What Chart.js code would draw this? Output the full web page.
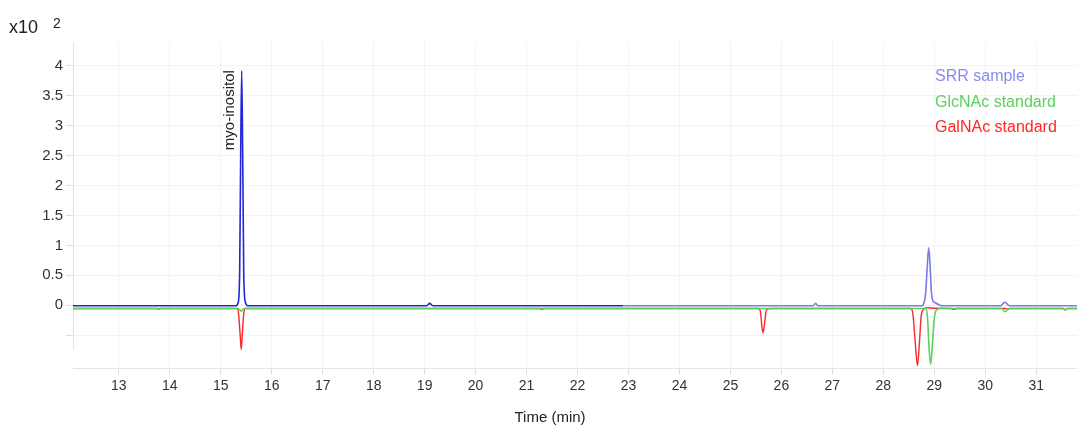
<!DOCTYPE html>
<html lang="en">
<head>
  <meta charset="UTF-8">
  <title>GC chromatogram – SRR sample vs. GlcNAc / GalNAc standards</title>
  <script src="https://cdn.jsdelivr.net/npm/chart.js"></script>
  <style>
    html, body { margin: 0; padding: 0; background: #fff; }
    .chart-container { position: relative; width: 1077px; height: 425px; }
  </style>
</head>
<body>
  <div class="chart-container">
    <canvas id="chromChart"></canvas>
  </div>

  <script>
    // retention time (min) / detector response (x10^2)
    const srrTime = [12.10, 15.30, 15.34, 15.37, 15.39, 15.41, 15.43, 15.45, 15.48, 15.53,
                     19.04, 19.10, 19.16, 22.90, 26.62, 26.67, 26.72,
                     28.76, 28.80, 28.83, 28.86, 28.89, 28.92, 28.94, 28.97, 29.02, 29.08, 29.15,
                     30.30, 30.35, 30.39, 30.44, 30.48, 31.80];
    const srrSignal = [-0.01, -0.01, 0.04, 0.55, 2.5, 3.92, 2.5, 0.55, 0.06, -0.01,
                       -0.01, 0.03, -0.01, -0.01, -0.01, 0.03, -0.01,
                       -0.01, 0.05, 0.2, 0.62, 0.96, 0.62, 0.25, 0.08, 0.04, 0.01, -0.01,
                       -0.01, 0.03, 0.05, 0.01, -0.01, -0.01];

    const glcTime = [12.10, 15.34, 15.40, 15.46, 21.25, 21.30, 21.35,
                     28.84, 28.87, 28.90, 28.93, 28.96, 28.99, 29.02, 29.06, 29.12,
                     30.32, 30.39, 30.46, 31.52, 31.57, 31.62, 31.80];
    const glcSignal = [-0.055, -0.055, -0.1, -0.055, -0.055, -0.07, -0.055,
                       -0.055, -0.25, -0.75, -0.99, -0.7, -0.3, -0.12, -0.07, -0.055,
                       -0.055, -0.11, -0.055, -0.055, -0.075, -0.055, -0.055];

    const galTime = [12.10, 13.74, 13.78, 13.82, 15.32, 15.35, 15.38, 15.40, 15.42, 15.45, 15.48,
                     25.56, 25.59, 25.62, 25.64, 25.67, 25.70, 25.74, 25.80,
                     28.54, 28.58, 28.62, 28.67, 28.71, 28.74, 28.78, 28.85, 29.00,
                     29.33, 29.38, 29.43, 30.40, 30.44, 30.48, 31.53, 31.57, 31.61, 31.80];
    const galSignal = [-0.055, -0.055, -0.065, -0.055, -0.055, -0.15, -0.5, -0.74, -0.5, -0.15, -0.055,
                       -0.055, -0.12, -0.38, -0.46, -0.3, -0.1, -0.06, -0.055,
                       -0.055, -0.15, -0.55, -1.01, -0.6, -0.2, -0.08, -0.045, -0.05,
                       -0.055, -0.07, -0.055, -0.055, -0.07, -0.055, -0.055, -0.08, -0.055, -0.055];

    const seriesNames = ['SRR sample', 'GlcNAc standard', 'GalNAc standard'];
    const xTicks = [13, 14, 15, 16, 17, 18, 19, 20, 21, 22, 23, 24, 25, 26, 27, 28, 29, 30, 31];
    const yTicks = [-0.5, 0, 0.5, 1, 1.5, 2, 2.5, 3, 3.5, 4];

    const peakLabel = { text: 'myo-inositol', time: 15.17, top: 3.93 };

    const toPoints = (t, v) => t.map((x, i) => ({ x: x, y: v[i] }));

    Chart.defaults.font.family = '"Liberation Sans", Arial, sans-serif';
    Chart.defaults.color = '#333';

    // extra texts: exponent, peak name, legend, x title; short y axis line
    const chromTexts = {
      id: 'chromTexts',
      beforeDatasetsDraw(chart) {
        const { ctx, chartArea, scales } = chart;
        ctx.save();
        ctx.strokeStyle = '#e4e4e4';
        ctx.lineWidth = 1;
        ctx.beginPath();
        ctx.moveTo(chartArea.left + 0.5, chartArea.top);
        ctx.lineTo(chartArea.left + 0.5, scales.y.getPixelForValue(-0.75));
        ctx.stroke();
        ctx.restore();
      },
      afterDraw(chart, args, opts) {
        const { ctx, scales } = chart;
        ctx.save();
        ctx.fillStyle = '#222';
        ctx.textBaseline = 'middle';
        ctx.textAlign = 'left';
        ctx.font = '18px "Liberation Sans", Arial, sans-serif';
        ctx.fillText('x10', 9, 28);
        ctx.font = '14px "Liberation Sans", Arial, sans-serif';
        ctx.fillText('2', 53, 24);

        // peak name, rotated
        const px = scales.x.getPixelForValue(peakLabel.time);
        const py = scales.y.getPixelForValue(peakLabel.top);
        ctx.save();
        ctx.translate(px, py);
        ctx.rotate(-Math.PI / 2);
        ctx.textAlign = 'right';
        ctx.font = '15px "Liberation Sans", Arial, sans-serif';
        ctx.fillStyle = '#222';
        ctx.fillText(peakLabel.text, 0, 0);
        ctx.restore();

        // legend (text only)
        ctx.font = '16px "Liberation Sans", Arial, sans-serif';
        chart.data.datasets.forEach((ds, i) => {
          ctx.fillStyle = opts.colors[i];
          ctx.fillText(ds.label, 935, 77 + i * 25.5);
        });

        // x axis title
        ctx.textAlign = 'center';
        ctx.fillStyle = '#222';
        ctx.font = '15px "Liberation Sans", Arial, sans-serif';
        ctx.fillText('Time (min)', 550, 418);
        ctx.restore();
      }
    };

    const ctx = document.getElementById('chromChart').getContext('2d');
    new Chart(ctx, {
      type: 'line',
      data: {
        datasets: [
          {
            label: seriesNames[0],
            data: toPoints(srrTime, srrSignal),
            borderColor: '#2424d8',
            borderWidth: 1.6,
            segment: {
              borderColor: c => c.p0.parsed.x < 22.9 ? '#2424d8' : '#7a7ae8'
            }
          },
          {
            label: seriesNames[1],
            data: toPoints(glcTime, glcSignal),
            borderColor: '#5ccf5c',
            borderWidth: 1.6
          },
          {
            label: seriesNames[2],
            data: toPoints(galTime, galSignal),
            borderColor: '#ff2626',
            borderWidth: 1.4
          }
        ]
      },
      options: {
        responsive: true,
        maintainAspectRatio: false,
        animation: false,
        cubicInterpolationMode: 'monotone',
        elements: { point: { radius: 0 } },
        layout: { padding: { top: 42, left: 0, right: 0, bottom: 0 } },
        plugins: {
          legend: { display: false },
          tooltip: { enabled: false },
          chromTexts: { colors: ['#8a8aee', '#5ccf5c', '#ff2626'] }
        },
        scales: {
          x: {
            type: 'linear',
            min: 12.1,
            max: 31.8,
            afterBuildTicks: s => { s.ticks = xTicks.map(v => ({ value: v })); },
            afterFit: s => { s.height = 57; },
            grid: { color: '#f3f3f3', tickColor: '#dcdcdc', tickLength: 6 },
            border: { color: '#e4e4e4' },
            ticks: { font: { size: 14 }, color: '#333', padding: 4, maxRotation: 0 }
          },
          y: {
            min: -1.05,
            max: 4.4,
            afterBuildTicks: s => { s.ticks = yTicks.map(v => ({ value: v })); },
            afterFit: s => { s.width = 73; },
            grid: { color: '#f3f3f3', tickColor: '#dcdcdc', tickLength: 7 },
            border: { display: false },
            ticks: {
              font: { size: 15 },
              color: '#333',
              padding: 3,
              callback: v => v < 0 ? '' : String(v)
            }
          }
        }
      },
      plugins: [chromTexts]
    });
  </script>
</body>
</html>
